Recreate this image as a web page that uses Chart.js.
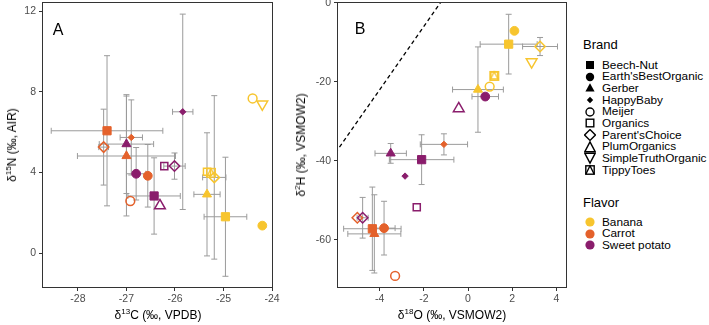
<!DOCTYPE html>
<html>
<head>
<meta charset="utf-8">
<script src="https://cdn.jsdelivr.net/npm/chart.js@4"></script>
<style>
  body { margin: 0; background: #fff; font-family: "Liberation Sans", Arial, sans-serif; }
  #wrap { position: relative; width: 709px; height: 325px; overflow: hidden; }
  .box { position: absolute; top: -8px; height: 333px; }
  .ttl { position: absolute; font-size: 12px; color: #000; white-space: nowrap; transform: translate(-50%, -50%); }
  .ttl.rot { transform: translate(-50%, -50%) rotate(-90deg); }
  .ttl sup { font-size: 8px; vertical-align: 0; position: relative; top: -5px; }
  .tag { position: absolute; font-size: 16px; color: #000; transform: translate(-50%, -50%); }
  .lg { position: absolute; font-size: 11.8px; color: #000; white-space: nowrap; }
  .lg svg { position: absolute; left: 0; top: 50%; transform: translate(-50%, -50%); }
  .lgt { position: absolute; font-size: 13px; color: #000; }
</style>
</head>
<body>
<div id="wrap">
  <div class="box" style="left:0;width:282px"><canvas id="chartA"></canvas></div>
  <div class="box" style="left:288px;width:290px"><canvas id="chartB"></canvas></div>
  <div class="tag" style="left:58px;top:30px">A</div>
  <div class="tag" style="left:360px;top:29px">B</div>
  <div class="ttl rot" style="left:12px;top:145px">δ<sup>15</sup>N (‰, AIR)</div>
  <div class="ttl" style="left:158px;top:315px">δ<sup>13</sup>C (‰, VPDB)</div>
  <div class="ttl rot" style="left:301px;top:145px">δ<sup>2</sup>H (‰, VSMOW2)</div>
  <div class="ttl" style="left:452px;top:315px">δ<sup>18</sup>O (‰, VSMOW2)</div>
  <div id="legend"></div>
</div>
<script>
// muestras (marca x sabor), mismo orden en los dos paneles
const brands = ['Beech-Nut', "Earth'sBestOrganic", 'Gerber', 'HappyBaby', 'Meijer', 'Organics',
  "Parent'sChoice", 'PlumOrganics', 'SimpleTruthOrganic', 'TippyToes'];
const flavors = ['Banana', 'Carrot', 'Sweet potato'];

const sampleBrand = [
  'Beech-Nut', "Earth'sBestOrganic", 'Gerber', 'Meijer', 'Organics', "Parent'sChoice", 'SimpleTruthOrganic', 'TippyToes',
  'Beech-Nut', "Earth'sBestOrganic", 'Gerber', 'HappyBaby', 'Meijer', "Parent'sChoice",
  'Beech-Nut', "Earth'sBestOrganic", 'Gerber', 'HappyBaby', 'Organics', "Parent'sChoice", 'PlumOrganics'
];
const sampleFlavor = [
  'Banana', 'Banana', 'Banana', 'Banana', 'Banana', 'Banana', 'Banana', 'Banana',
  'Carrot', 'Carrot', 'Carrot', 'Carrot', 'Carrot', 'Carrot',
  'Sweet potato', 'Sweet potato', 'Sweet potato', 'Sweet potato', 'Sweet potato', 'Sweet potato', 'Sweet potato'
];

// Panel A
const d13C = [-24.96, -24.20, -25.34, -24.40, -25.34, -25.19, -24.20, -25.26,
  -27.40, -26.56, -27.00, -26.90, -26.92, -27.47,
  -26.43, -26.80, -27.00, -25.84, -26.22, -26.01, -26.31];
const d15N = [1.81, 1.37, 2.92, 7.67, 4.04, 3.76, 7.39, 3.99,
  6.07, 3.84, 4.82, 5.74, 2.59, 5.26,
  2.84, 3.94, 5.41, 7.01, 4.32, 4.32, 2.36];
const d13Csd = [0.44, null, 0.27, null, null, 0.24, null, null,
  1.15, null, 1.01, 0.23, null, 0.1,
  0.54, 0.2, 0.56, 0.21, null, 0.22, null];
const d15Nsd = [2.95, null, 3.05, null, null, 4.05, null, null,
  3.72, 1.55, 2.97, 1.86, null, 1.88,
  1.89, 1.3, 2.45, 4.84, null, 0.65, null];

// Panel B
const d18O = [1.84, 2.10, 0.45, 0.98, 1.19, 3.26, 2.88, 1.19,
  -4.33, -3.80, -4.24, -1.09, -3.30, -5.01,
  -2.10, 0.78, -3.50, -2.85, -2.32, -4.77, -0.42];
const d2H = [-10.47, -7.10, -21.97, -21.2, -18.4, -11.07, -14.96, -18.51,
  -57.2, -57.05, -58.5, -35.84, -69.14, -54.42,
  -39.71, -23.74, -38.12, -43.87, -51.74, -54.42, -26.78];
const d18Osd = [1.29, null, 1.15, null, null, 0.79, null, null,
  1.3, 0.5, 1.2, 1.07, null, null,
  1.46, 0.6, 0.71, null, null, 0.25, null];
const d2Hsd = [7.56, null, 10.8, null, null, 2.29, null, null,
  10.55, 6.8, 9.9, 2.67, null, null,
  6.3, null, 2.5, null, null, 5.15, null];

// linea meteorica global (dH = 8 dO + 10)
const gmwlO = [-6, -1];
const gmwlH = [-38, 2];

const ticksA_x = [-28, -27, -26, -25, -24];
const ticksA_y = [0, 4, 8, 12];
const ticksB_x = [-4, -2, 0, 2, 4];
const ticksB_y = [-60, -40, -20, 0];

const flavorColor = { 'Banana': '#F7C52E', 'Carrot': '#E4612B', 'Sweet potato': '#8A1D6C' };

function tippyCanvas(color) {
  const c = document.createElement('canvas');
  c.width = 12; c.height = 12;
  const g = c.getContext('2d');
  g.strokeStyle = color; g.lineWidth = 1.4;
  g.strokeRect(1.7, 1.7, 8.6, 8.6);
  g.beginPath(); g.moveTo(1.7, 10.3); g.lineTo(6, 1.7); g.lineTo(10.3, 10.3); g.stroke();
  return c;
}

const brandStyle = {
  'Beech-Nut': { style: 'rect', r: 5.8, open: false },
  "Earth'sBestOrganic": { style: 'circle', r: 4.4, open: false },
  'Gerber': { style: 'triangle', r: 5.2, open: false },
  'HappyBaby': { style: 'rectRot', r: 3.2, open: false },
  'Meijer': { style: 'circle', r: 4.4, open: true },
  'Organics': { style: 'rect', r: 5, open: true },
  "Parent'sChoice": { style: 'rectRot', r: 5.2, open: true },
  'PlumOrganics': { style: 'triangle', r: 6.2, open: true },
  'SimpleTruthOrganic': { style: 'triangle', r: 6.2, open: true, rot: 180 },
  'TippyToes': { style: 'tippy', r: 6, open: true }
};

const errorBars = {
  id: 'errorBars',
  beforeDatasetsDraw(chart, args, opts) {
    const { ctx } = chart;
    const xs = chart.scales.x, ys = chart.scales.y;
    const cap = 3;
    ctx.save();
    ctx.strokeStyle = '#9b9b9b';
    ctx.lineWidth = 1;
    opts.xv.forEach((xv, i) => {
      const yv = opts.yv[i];
      const px = xs.getPixelForValue(xv), py = ys.getPixelForValue(yv);
      if (opts.xsd[i] != null) {
        const a = xs.getPixelForValue(xv - opts.xsd[i]), b = xs.getPixelForValue(xv + opts.xsd[i]);
        ctx.beginPath();
        ctx.moveTo(a, py); ctx.lineTo(b, py);
        ctx.moveTo(a, py - cap); ctx.lineTo(a, py + cap);
        ctx.moveTo(b, py - cap); ctx.lineTo(b, py + cap);
        ctx.stroke();
      }
      if (opts.ysd[i] != null) {
        const a = ys.getPixelForValue(yv - opts.ysd[i]), b = ys.getPixelForValue(yv + opts.ysd[i]);
        ctx.beginPath();
        ctx.moveTo(px, a); ctx.lineTo(px, b);
        ctx.moveTo(px - cap, a); ctx.lineTo(px + cap, a);
        ctx.moveTo(px - cap, b); ctx.lineTo(px + cap, b);
        ctx.stroke();
      }
    });
    ctx.restore();
  }
};

const panelBorder = {
  id: 'panelBorder',
  afterDraw(chart) {
    const { ctx, chartArea: ca } = chart;
    ctx.save();
    ctx.strokeStyle = '#333333';
    ctx.lineWidth = 1;
    ctx.strokeRect(Math.round(ca.left) + 0.5, Math.round(ca.top) + 0.5,
      Math.round(ca.right - ca.left) - 1, Math.round(ca.bottom - ca.top) - 1);
    ctx.restore();
  }
};

function makePanel(id, xv, yv, xsd, ysd, xt, yt, xr, yr, yw, padR, extra) {
  const colors = sampleFlavor.map(f => flavorColor[f]);
  const pts = {
    type: 'scatter',
    data: xv.map((x, i) => ({ x: x, y: yv[i] })),
    pointStyle: sampleBrand.map((b, i) => brandStyle[b].style === 'tippy' ? tippyCanvas(colors[i]) : brandStyle[b].style),
    pointRadius: sampleBrand.map(b => brandStyle[b].r),
    pointRotation: sampleBrand.map(b => brandStyle[b].rot || 0),
    pointBackgroundColor: sampleBrand.map((b, i) => brandStyle[b].open ? 'rgba(0,0,0,0)' : colors[i]),
    pointBorderColor: colors,
    pointBorderWidth: sampleBrand.map(b => brandStyle[b].open ? 1.5 : 1),
    order: 0
  };
  const tickFont = { family: '"Liberation Sans", Arial, sans-serif', size: 10.5 };
  return new Chart(document.getElementById(id), {
    type: 'scatter',
    data: { datasets: [pts].concat(extra) },
    options: {
      responsive: true,
      maintainAspectRatio: false,
      animation: false,
      events: [],
      layout: { padding: { top: 10, right: padR, left: 0, bottom: 0 } },
      plugins: {
        legend: { display: false },
        tooltip: { enabled: false },
        errorBars: { xv: xv, yv: yv, xsd: xsd, ysd: ysd }
      },
      scales: {
        x: {
          type: 'linear', min: xr[0], max: xr[1],
          afterBuildTicks: s => { s.ticks = xt.map(v => ({ value: v })); },
          afterFit: s => { s.height = 37; },
          grid: { drawOnChartArea: false, drawTicks: true, tickLength: 3, color: '#333' },
          border: { display: false },
          ticks: { color: '#4d4d4d', font: tickFont, padding: 2, maxRotation: 0 }
        },
        y: {
          type: 'linear', min: yr[0], max: yr[1],
          afterBuildTicks: s => { s.ticks = yt.map(v => ({ value: v })); },
          afterFit: s => { s.width = yw; },
          grid: { drawOnChartArea: false, drawTicks: true, tickLength: 3, color: '#333' },
          border: { display: false },
          ticks: { color: '#4d4d4d', font: tickFont, padding: 3 }
        }
      }
    },
    plugins: [errorBars, panelBorder]
  });
}

makePanel('chartA', d13C, d15N, d13Csd, d15Nsd, ticksA_x, ticksA_y, [-28.74, -23.98], [-1.72, 12.45], 42, 9, []);

makePanel('chartB', d18O, d2H, d18Osd, d2Hsd, ticksB_x, ticksB_y, [-5.93, 4.48], [-72.2, 0.2], 49, 11, [{
  type: 'line',
  data: gmwlO.map((x, i) => ({ x: x, y: gmwlH[i] })),
  borderColor: '#000',
  borderWidth: 1.3,
  borderDash: [4, 3],
  pointRadius: 0,
  showLine: true,
  order: 1
}]);

// leyenda en HTML
const icons = {
  'Beech-Nut': '<rect x="2" y="2" width="8" height="8" fill="#000"/>',
  "Earth'sBestOrganic": '<circle cx="6" cy="6" r="4.2" fill="#000"/>',
  'Gerber': '<polygon points="6,1.2 10.6,9.6 1.4,9.6" fill="#000"/>',
  'HappyBaby': '<polygon points="6,2.8 9.2,6 6,9.2 2.8,6" fill="#000"/>',
  'Meijer': '<circle cx="6" cy="6" r="4" fill="none" stroke="#000" stroke-width="1.4"/>',
  'Organics': '<rect x="2.2" y="2.2" width="7.6" height="7.6" fill="none" stroke="#000" stroke-width="1.4"/>',
  "Parent'sChoice": '<polygon points="6,0.6 11.4,6 6,11.4 0.6,6" fill="none" stroke="#000" stroke-width="1.4"/>',
  'PlumOrganics': '<polygon points="6,0.8 11.3,10.8 0.7,10.8" fill="none" stroke="#000" stroke-width="1.4"/>',
  'SimpleTruthOrganic': '<polygon points="0.7,1.2 11.3,1.2 6,11.2" fill="none" stroke="#000" stroke-width="1.4"/>',
  'TippyToes': '<rect x="1.8" y="1.8" width="8.4" height="8.4" fill="none" stroke="#000" stroke-width="1.4"/><polyline points="1.8,10.2 6,1.8 10.2,10.2" fill="none" stroke="#000" stroke-width="1.4"/>'
};
let html = '<div class="lgt" style="left:583px;top:37px">Brand</div>';
brands.forEach((b, i) => {
  const y = 65 + i * 11.67;
  html += '<div class="lg" style="left:590px;top:' + (y - 6.5) + 'px;height:13px;line-height:13px">' +
    '<svg width="12" height="12" viewBox="0 0 12 12">' + icons[b] + '</svg>' +
    '<span style="position:absolute;left:12px">' + b + '</span></div>';
});
html += '<div class="lgt" style="left:583px;top:195px">Flavor</div>';
flavors.forEach((f, i) => {
  const y = 222 + i * 11.5;
  html += '<div class="lg" style="left:590px;top:' + (y - 6.5) + 'px;height:13px;line-height:13px">' +
    '<svg width="12" height="12" viewBox="0 0 12 12"><circle cx="6" cy="6" r="4.6" fill="' + flavorColor[f] + '"/></svg>' +
    '<span style="position:absolute;left:12px">' + f + '</span></div>';
});
document.getElementById('legend').innerHTML = html;
</script>
</body>
</html>
